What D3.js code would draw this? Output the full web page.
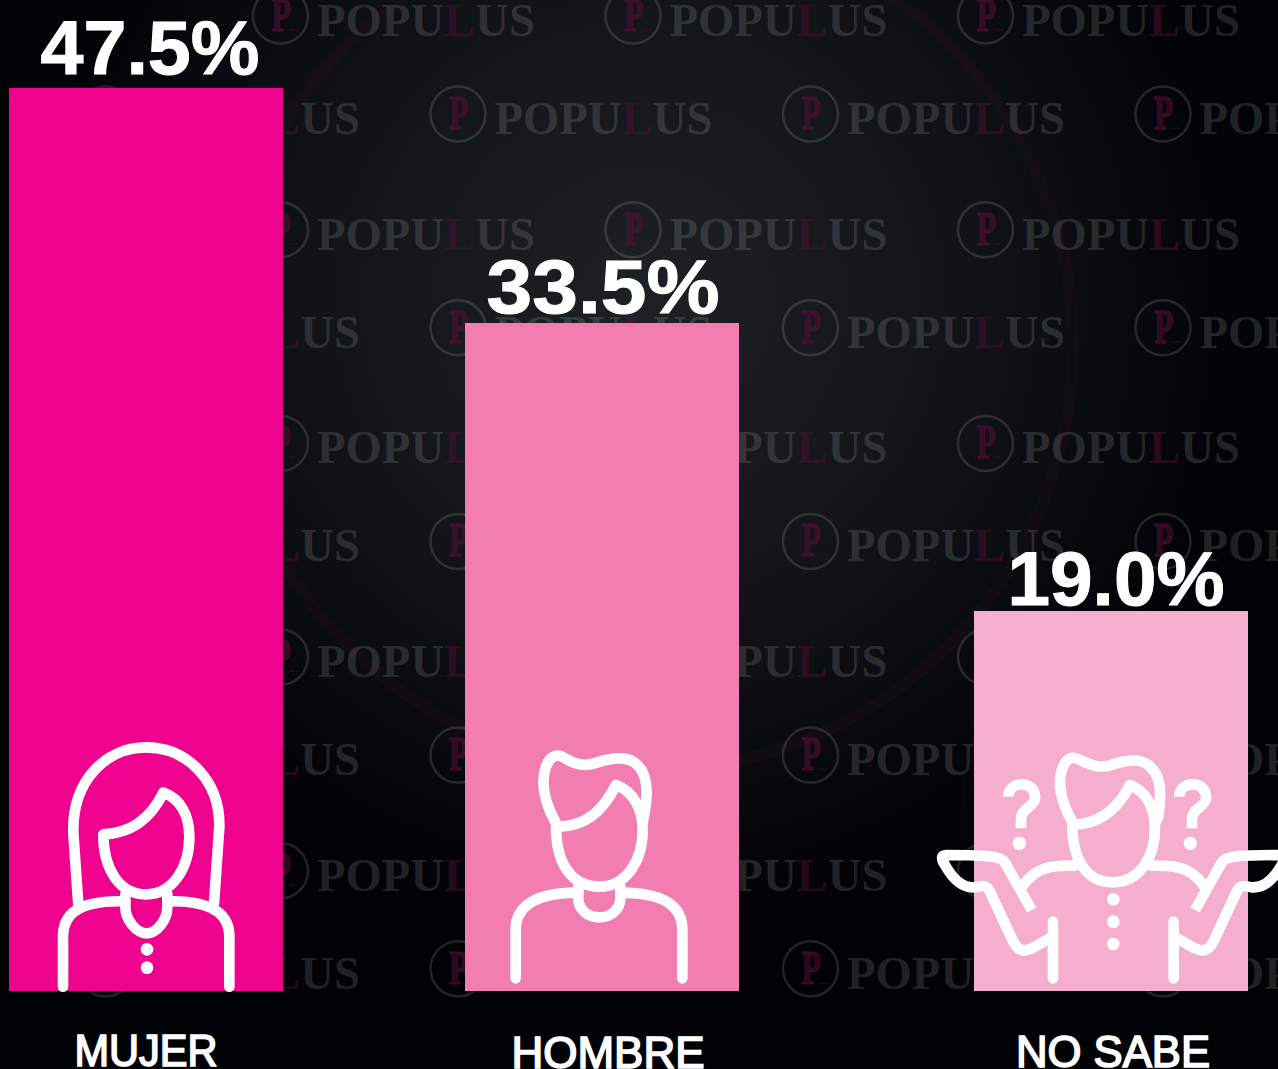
<!DOCTYPE html>
<html lang="es">
<head>
    <meta charset="UTF-8">
    <title>Populus</title>
    <script src="https://d3js.org/d3.v7.min.js"></script>
    <style>
        html, body { margin: 0; padding: 0; background: #000; overflow: hidden; }
        svg { display: block; }
        .value { font-family: "Liberation Sans", sans-serif; font-weight: 700; font-size: 76px; fill: #fff; stroke: #fff; stroke-width: 1px; text-anchor: middle; }
        .cat { font-family: "Liberation Sans", sans-serif; font-size: 44.5px; fill: #fff; stroke: #fff; stroke-width: 1.7px; text-anchor: middle; }
        .mark text { font-family: "Liberation Serif", serif; font-weight: 700; }
        .icon path { fill: none; stroke: #fff; stroke-width: 32; stroke-linecap: round; stroke-linejoin: round; }
        .icon circle { fill: #fff; }
    </style>
</head>
<body>
    <script>
        const categories = ["MUJER", "HOMBRE", "NO SABE"];
        const values = [47.5, 33.5, 19.0];
        const barColors = ["#ef028d", "#f27db0", "#f5aece"];

        const width = 1278, height = 1069;
        const baseline = 991, barWidth = 274;

        // bars in the picture are not strictly proportional, so the scale has pivots
        const y = d3.scaleLinear().domain([0, 19, 33.5, 47.5]).range([baseline, 611, 323, 88]);
        const x = d3.scaleOrdinal().domain(categories).range([146, 602, 1111]);
        const color = d3.scaleOrdinal().domain(categories).range(barColors);

        // the labels do not sit exactly over the bar centres
        const valueX = d3.scaleOrdinal().domain(categories).range([150, 603, 1116]);
        const valueGap = d3.scaleOrdinal().domain(categories).range([14, 10, 6]);
        const valueLength = d3.scaleOrdinal().domain(categories).range([219, 233, 217]);
        const catX = d3.scaleOrdinal().domain(categories).range([146, 608, 1113]);
        const catY = d3.scaleOrdinal().domain(categories).range([1066, 1068, 1067]);
        const catLength = d3.scaleOrdinal().domain(categories).range([143, 193, 194]);

        const svg = d3.select("body").append("svg")
            .attr("width", width)
            .attr("height", height);

        const defs = svg.append("defs");
        const grad = defs.append("radialGradient")
            .attr("id", "bg")
            .attr("gradientUnits", "userSpaceOnUse")
            .attr("cx", 640).attr("cy", 300).attr("r", 640);
        grad.append("stop").attr("offset", "0%").attr("stop-color", "#1d2125");
        grad.append("stop").attr("offset", "45%").attr("stop-color", "#12151a");
        grad.append("stop").attr("offset", "85%").attr("stop-color", "#04060b");
        grad.append("stop").attr("offset", "100%").attr("stop-color", "#010206");

        svg.append("rect").attr("width", width).attr("height", height).attr("fill", "url(#bg)");

        // faint ring behind everything
        svg.append("circle")
            .attr("cx", 648).attr("cy", 345).attr("r", 425)
            .attr("fill", "none")
            .attr("stroke", "#2a0f1e")
            .attr("stroke-opacity", 0.25)
            .attr("stroke-width", 12);

        // watermark, two alternating rows
        const rowGap = 213.7, colGap = 352.5;
        const markRed = "#5c0d36";
        function watermark(tx, ty) {
            const g = svg.append("g").attr("class", "mark").attr("transform", `translate(${tx},${ty})`);
            g.append("circle").attr("cx", 0).attr("cy", -19).attr("r", 27.5)
                .attr("fill", "none").attr("stroke", "#fff").attr("stroke-opacity", 0.13).attr("stroke-width", 2.5);
            g.append("text").attr("transform", "translate(-9,-4) scale(0.66,1)").attr("font-size", 48)
                .attr("fill", markRed).attr("stroke", markRed).attr("stroke-width", 1.5)
                .attr("fill-opacity", 0.5).attr("stroke-opacity", 0.5).text("P");
            g.append("text").attr("x", 9).attr("y", -4).attr("font-size", 11)
                .attr("fill", markRed).attr("fill-opacity", 0.5).text("...");
            const t = g.append("text").attr("x", 36.5).attr("y", 1).attr("font-size", 47)
                .attr("textLength", 218).attr("lengthAdjust", "spacingAndGlyphs").attr("fill", "#fff");
            t.append("tspan").attr("fill-opacity", 0.135).text("POPU");
            t.append("tspan").attr("fill", markRed).attr("fill-opacity", 0.45).text("L");
            t.append("tspan").attr("fill-opacity", 0.135).text("US");
        }
        d3.range(5).forEach(r => {
            d3.range(4).forEach(c => watermark(-72 + c * colGap + 352.5, 35 + r * rowGap));
            d3.range(4).forEach(c => watermark(105.5 + c * colGap, 133 + r * rowGap));
        });

        // bars
        svg.append("g").selectAll("rect")
            .data(categories)
            .join("rect")
            .attr("x", d => x(d) - barWidth / 2)
            .attr("y", (d, i) => y(values[i]))
            .attr("width", barWidth)
            .attr("height", (d, i) => baseline - y(values[i]))
            .attr("fill", d => color(d));

        // value labels
        svg.append("g").selectAll("text")
            .data(categories)
            .join("text")
            .attr("class", "value")
            .attr("x", d => valueX(d))
            .attr("y", (d, i) => y(values[i]) - valueGap(d))
            .attr("textLength", d => valueLength(d))
            .attr("lengthAdjust", "spacingAndGlyphs")
            .text((d, i) => values[i].toFixed(1) + "%");

        // category labels
        svg.append("g").selectAll("text")
            .data(categories)
            .join("text")
            .attr("class", "cat")
            .attr("x", d => catX(d))
            .attr("y", d => catY(d))
            .attr("textLength", d => catLength(d))
            .attr("lengthAdjust", "spacingAndGlyphs")
            .text(d => d);

        // icons, traced at 3x and scaled down
        function icon(tx, ty) {
            return svg.append("g").attr("class", "icon")
                .attr("transform", `translate(${tx},${ty}) scale(${1 / 3})`);
        }

        const woman = icon(0, 720);
        [
            "M235 555 L220 340 C215 180 320 82 438 82 C560 82 660 180 658 320 L642 550",
            "M310 343 C390 340 450 300 490 218 C540 235 568 285 568 350 C568 440 520 523 438 523 C360 523 310 450 310 343 Z",
            "M189 800 L189 650 C189 560 270 543 375 543",
            "M688 800 L688 650 C688 560 600 543 502 543",
            "M376 523 L376 560 C376 600 410 640 440 640 C470 640 502 600 502 560 L502 523"
        ].forEach(d => woman.append("path").attr("d", d));
        [688, 743].forEach(cy => woman.append("circle").attr("cx", 441).attr("cy", cy).attr("r", 19));

        const man = icon(460, 720);
        [
            "M288 310 C255 250 240 190 258 140 C270 105 295 100 315 115 C350 135 375 140 410 128 C450 115 490 108 520 125 C560 150 565 210 555 270 L548 310",
            "M288 320 C380 320 430 270 468 195 C520 215 548 265 548 330 C548 420 500 500 418 500 C335 500 288 430 288 320 Z",
            "M167 775 L167 630 C167 540 260 518 355 518",
            "M667 775 L667 630 C667 540 580 518 481 518",
            "M355 500 L355 535 C355 570 385 592 418 592 C450 592 481 570 481 535 L481 500"
        ].forEach(d => man.append("path").attr("d", d));

        const unsure = icon(930, 720);
        [
            "M427 305 C395 250 380 190 397 145 C410 112 430 108 450 120 C490 140 515 145 550 133 C590 120 630 115 655 135 C695 165 695 220 685 290 L675 310",
            "M427 315 C510 312 565 265 600 195 C650 215 675 265 675 325 C675 410 630 487 548 487 C470 487 427 420 427 315 Z"
        ].forEach(d => unsure.append("path").attr("d", d));

        function unsureSide(g) {
            g.append("path").attr("d", "M280 495 C320 440 370 435 435 437");
            g.append("path").style("stroke-linecap", "butt")
                .attr("d", "M305 570 L225 428 C215 408 170 405 50 405 C30 405 35 420 45 435 C70 480 100 505 135 502 C160 495 170 495 180 515 L250 665 C265 695 285 695 305 685 L369 650");
            g.append("path").attr("d", "M369 605 L369 775");
        }
        unsureSide(unsure.append("g"));
        unsureSide(unsure.append("g").attr("transform", "translate(1100,0) scale(-1,1)"));

        [0, 513].forEach(dx => {
            const q = unsure.append("g").attr("transform", `translate(${dx},0)`);
            q.append("path").style("stroke-linecap", "butt")
                .attr("d", "M235 230 C235 205 255 193 275 193 C300 193 317 210 315 235 C313 260 275 265 273 295 L273 325");
            q.append("circle").attr("cx", 268).attr("cy", 370).attr("r", 20);
        });
        [538, 605, 672].forEach(cy => unsure.append("circle").attr("cx", 550).attr("cy", cy).attr("r", 19));
    </script>
</body>
</html>
